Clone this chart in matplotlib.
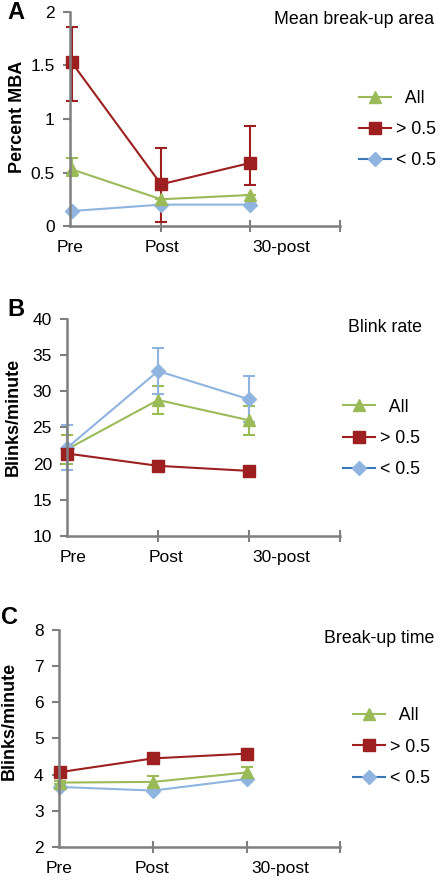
import matplotlib
matplotlib.use("Agg")
import matplotlib.pyplot as plt
from matplotlib.lines import Line2D

plt.rcParams['font.family'] = ['Liberation Sans', 'DejaVu Sans']

# time points
times = ["Pre", "Post", "30-post"]

# A: mean break-up area (percent MBA)
mba_all = [0.53, 0.25, 0.29]
mba_all_lo = [0.06, 0.0, 0.0]
mba_all_hi = [0.11, 0.0, 0.0]
mba_hi = [1.53, 0.39, 0.59]
mba_hi_lo = [0.36, 0.35, 0.21]
mba_hi_hi = [0.33, 0.34, 0.34]
mba_lo = [0.14, 0.20, 0.20]

# B: blink rate
br_all = [22.0, 28.8, 26.0]
br_all_err = [2.0, 2.0, 2.0]
br_hi = [21.4, 19.7, 19.0]
br_hi_err = [0.5, 0.6, 0.6]
br_lo = [22.2, 32.8, 28.9]
br_lo_err = [3.1, 3.2, 3.2]

# C: break-up time
bt_all = [3.78, 3.80, 4.06]
bt_all_err = [0.05, 0.16, 0.16]
bt_hi = [4.07, 4.45, 4.58]
bt_hi_err = [0.1, 0.12, 0.12]
bt_lo = [3.66, 3.56, 3.88]

legend_labels = ['  All', '> 0.5', '< 0.5']

green = '#9BBB59'
red = '#9E1F1F'
blue = '#8EB4DF'
legend_blue = '#3C78B8'
axis_gray = '#7F7F7F'

fig = plt.figure(figsize=(4.42, 8.92), dpi=100)

panels = [
    dict(rect=[0.158, 0.7466, 0.611, 0.240], letter='A', letter_xy=(0.016, 0.999),
         title='Mean break-up area', title_xy=(1.35, 1.005),
         ylabel='Percent MBA', ylabel_xy=(-0.163, 0.51),
         ylim=(0, 2), yticks=[0, 0.5, 1, 1.5, 2],
         yticklabels=['0', '0.5', '1', '1.5', '2'],
         label_x=[-0.02, 1.01, 2.35], leg_xy=(1.07, 0.45)),
    dict(rect=[0.152, 0.3991, 0.617, 0.2433], letter='B', letter_xy=(0.016, 0.666),
         title='Blink rate', title_xy=(1.30, 1.0),
         ylabel='Blinks/minute', ylabel_xy=(-0.165, 0.55),
         ylim=(10, 40), yticks=[10, 15, 20, 25, 30, 35, 40],
         yticklabels=None, label_x=[0.07, 1.09, 2.35], leg_xy=(1.01, 0.45)),
    dict(rect=[0.1335, 0.0505, 0.6355, 0.2432], letter='C', letter_xy=(0.003, 0.321),
         title='Break-up time', title_xy=(1.335, 1.0),
         ylabel='Blinks/minute', ylabel_xy=(-0.146, 0.58),
         ylim=(2, 8), yticks=[2, 3, 4, 5, 6, 7, 8],
         yticklabels=None, label_x=[-0.01, 0.99, 2.36], leg_xy=(1.045, 0.46)),
]

series = [
    # (means, lower err, upper err, color, marker)
    [(mba_hi, mba_hi_lo, mba_hi_hi, red, 's'),
     (mba_all, mba_all_lo, mba_all_hi, green, '^'),
     (mba_lo, None, None, blue, 'D')],
    [(br_all, br_all_err, br_all_err, green, '^'),
     (br_lo, br_lo_err, br_lo_err, blue, 'D'),
     (br_hi, br_hi_err, br_hi_err, red, 's')],
    [(bt_all, bt_all_err, bt_all_err, green, '^'),
     (bt_lo, None, None, blue, 'D'),
     (bt_hi, bt_hi_err, bt_hi_err, red, 's')],
]

x = [0, 1, 2]
for p, ser in zip(panels, series):
    ax = fig.add_axes(p['rect'])
    for vals, lo, hi, col, mk in ser:
        ms = 8.5 if mk == 's' else (7.5 if mk == 'D' else 8.5)
        lw = 1.5
        if lo is not None:
            ax.errorbar(x, vals, yerr=[lo, hi], color=col, marker=mk, markersize=ms,
                        lw=lw, elinewidth=1.5, capsize=4, capthick=1.5, clip_on=False)
        else:
            ax.plot(x, vals, color=col, marker=mk, markersize=ms, lw=lw, clip_on=False)

    ax.set_xlim(0, 3)
    ax.set_ylim(*p['ylim'])
    ax.set_yticks(p['yticks'])
    if p['yticklabels']:
        ax.set_yticklabels(p['yticklabels'])
    ax.set_xticks([1, 2, 3])
    ax.set_xticklabels([])
    ax.set_xticks(p['label_x'], minor=True)
    ax.set_xticklabels(times, minor=True)
    ax.tick_params(axis='x', which='major', direction='inout', length=9, width=1.5,
                   color=axis_gray)
    ax.tick_params(axis='x', which='minor', length=0, pad=10, labelsize=12.5)
    ax.tick_params(axis='y', direction='out', length=5, width=1.5, color=axis_gray,
                   labelsize=12.5, pad=6)
    for s in ['top', 'right']:
        ax.spines[s].set_visible(False)
    for s in ['left', 'bottom']:
        ax.spines[s].set_color(axis_gray)
        ax.spines[s].set_linewidth(1.8)
    ax.set_ylabel(p['ylabel'], fontsize=13, fontweight='bold')
    ax.yaxis.set_label_coords(*p['ylabel_xy'])

    ax.text(*p['title_xy'], p['title'], transform=ax.transAxes, fontsize=12.8,
            ha='right', va='top', clip_on=False)
    fig.text(*p['letter_xy'], p['letter'], fontsize=17, fontweight='bold',
             ha='left', va='top')

    handles = [
        Line2D([], [], color=green, marker='^', markersize=8.5, lw=1.5),
        Line2D([], [], color=red, marker='s', markersize=8.5, lw=1.5),
        Line2D([], [], color=legend_blue, marker='D', markersize=7.5, lw=1.5,
               markerfacecolor=blue, markeredgecolor=blue),
    ]
    ax.legend(handles, legend_labels, loc='center left',
              bbox_to_anchor=p['leg_xy'], frameon=False, fontsize=12.8,
              handlelength=1.8, handletextpad=0.3, labelspacing=0.8,
              borderaxespad=0, borderpad=0)

fig.savefig('out.png', dpi=100)
